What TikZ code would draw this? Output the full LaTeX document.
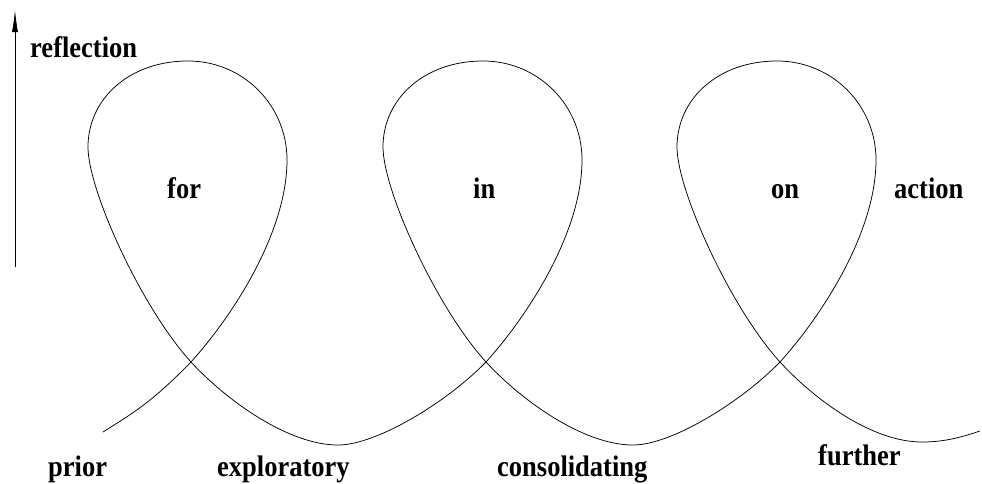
\documentclass[tikz,border=0pt]{standalone}
\usepackage{fontspec}
\setmainfont{Liberation Serif}
\usepackage{graphicx}
\usetikzlibrary{arrows.meta}
\newcommand{\lbl}[1]{\scalebox{1}[1.12]{\bfseries #1}}
\tikzset{
  word/.style={anchor=base west, inner sep=0pt, font=\fontsize{26.5}{30}\selectfont},
  spiral/.style={line width=0.75pt, black},
  axisline/.style={line width=0.8pt, -{Latex[length=22pt,width=6pt]}}
}
\begin{document}
\begin{tikzpicture}[x=1pt,y=-1pt]
\useasboundingbox (0,0) rectangle (982,483);
% axis arrow
\coordinate (abot) at (15,267);
\coordinate (atop) at (15,10);
\draw[axisline] (abot) -- (atop);
% looping curve
\coordinate (cstart) at (103,432);
\coordinate (cend) at (980,431);
\draw[spiral] (cstart)
  .. controls (133,413) and (151,403) .. (191,362)
  .. controls (236,312) and (287,230) .. (287,160)
  .. controls (287,105) and (243,61) .. (188,61)
  .. controls (129,61) and (88,99) .. (88,147)
  .. controls (88,190) and (141,307) .. (191,362)
  .. controls (226,400) and (288,445) .. (338,445)
  .. controls (376,445) and (446,403) .. (486,362)
  .. controls (531,312) and (582,230) .. (582,160)
  .. controls (582,105) and (538,61) .. (483,61)
  .. controls (424,61) and (383,99) .. (383,147)
  .. controls (383,190) and (436,307) .. (486,362)
  .. controls (521,400) and (583,445) .. (633,445)
  .. controls (671,445) and (740,403) .. (780,362)
  .. controls (825,312) and (876,230) .. (876,160)
  .. controls (876,105) and (832,61) .. (777,61)
  .. controls (718,61) and (677,99) .. (677,147)
  .. controls (677,190) and (730,307) .. (780,362)
  .. controls (815,400) and (872,442) .. (922,442)
  .. controls (945,442) and (962,437) .. (cend);
% labels
\node[word] (reflection) at (30,57) {\lbl{reflection}};
\node[word] (for) at (167,198) {\lbl{for}};
\node[word] (in) at (473,198) {\lbl{in}};
\node[word] (on) at (771,198) {\lbl{on}};
\node[word] (action) at (894,198) {\lbl{action}};
\node[word] (prior) at (48,476) {\lbl{prior}};
\node[word] (exploratory) at (217,476) {\lbl{exploratory}};
\node[word] (consolidating) at (497,476) {\lbl{consolidating}};
\node[word] (further) at (818,465) {\lbl{further}};
\end{tikzpicture}
\end{document}
